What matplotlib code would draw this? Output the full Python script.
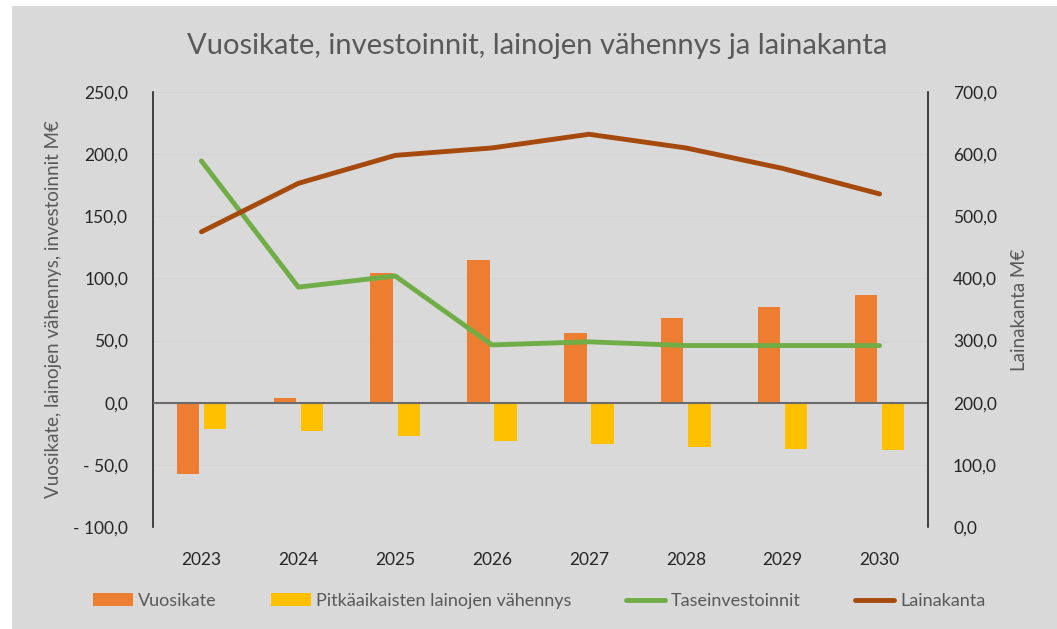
import numpy as np
import matplotlib
matplotlib.use("Agg")
from matplotlib import pyplot as plt
from matplotlib.patches import Rectangle

plt.rcParams['font.family'] = ['Lato', 'DejaVu Sans']

# Data
years = ['2023', '2024', '2025', '2026', '2027', '2028', '2029', '2030']
vuosikate = [-57.5, 3.5, 104.0, 115.0, 56.0, 68.5, 77.0, 87.0]
lainojen_vahennys = [-21.0, -22.5, -26.5, -30.5, -33.0, -35.5, -37.0, -38.0]
taseinvestoinnit = [194.5, 93.0, 102.0, 46.5, 49.0, 46.0, 46.0, 46.0]
lainakanta = [475.0, 553.0, 598.0, 610.0, 632.0, 610.0, 577.0, 536.0]

bg = '#d9d9d9'
c_orange = '#ed7d31'
c_yellow = '#ffc000'
c_green = '#70ad47'
c_brown = '#a5490c'
txt = '#595959'

fig = plt.figure(figsize=(10.57, 6.29), dpi=100, facecolor='white')
# grey chart area (white strip left and top as in the original)
fig.patches.append(Rectangle((12 / 1057, 0), 1, 1 - 6 / 629, transform=fig.transFigure,
                             facecolor=bg, edgecolor='none', zorder=-10))

ax = fig.add_axes([153 / 1057, 1 - 527 / 629, (928 - 153) / 1057, (527 - 92) / 629])
ax.set_facecolor(bg)
x = np.arange(len(years))
w = 0.23
ax.bar(x - 0.14, vuosikate, w, color=c_orange, label='Vuosikate', zorder=3)
ax.bar(x + 0.14, lainojen_vahennys, w, color=c_yellow,
       label='Pitkäaikaisten lainojen vähennys', zorder=3)
ax.plot(x, taseinvestoinnit, color=c_green, lw=3.5, solid_capstyle='round',
        label='Taseinvestoinnit', zorder=5)

ax.set_xlim(-0.5, len(years) - 0.5)
ax.set_ylim(-100, 250)
ax.set_yticks(np.arange(-100, 251, 50))
ax.set_yticklabels([f'{v:.1f}'.replace('.', ',').replace('-', '- ') for v in np.arange(-100, 251, 50)])
ax.yaxis.grid(True, color='#d4d4d4', lw=0.8, zorder=0)
ax.axhline(0, color='#6b6b6b', lw=1.5, zorder=4)
ax.set_xticks(x)
ax.set_xticklabels(years)
ax.tick_params(axis='x', length=0, pad=18, labelsize=12.5, labelcolor='#262626')
ax.tick_params(axis='y', length=0, pad=18, labelsize=12.5, labelcolor='#262626')
for s in ['top', 'bottom', 'right']:
    ax.spines[s].set_visible(False)
ax.spines['left'].set_color('#262626')
ax.spines['left'].set_linewidth(1.2)
ax.set_ylabel('Vuosikate, lainojen vähennys, investoinnit M€', fontsize=13.5, color=txt, labelpad=8)

ax2 = ax.twinx()
ax2.plot(x, lainakanta, color=c_brown, lw=3.5, solid_capstyle='round',
         label='Lainakanta', zorder=5)
ax2.set_ylim(0, 700)
ax2.set_yticks(np.arange(0, 701, 100))
ax2.set_yticklabels([f'{v:.1f}'.replace('.', ',') for v in np.arange(0, 701, 100)])
ax2.tick_params(axis='y', length=0, pad=18, labelsize=12.5, labelcolor='#262626')
for s in ['top', 'bottom', 'left']:
    ax2.spines[s].set_visible(False)
ax2.spines['right'].set_color('#262626')
ax2.spines['right'].set_linewidth(1.2)
ax2.set_ylabel('Lainakanta M€', fontsize=13.5, color=txt, labelpad=10)

fig.text(0.508, 1 - 46 / 629, 'Vuosikate, investoinnit, lainojen vähennys ja lainakanta',
         ha='center', va='center', fontsize=21, color=txt)

h1, l1 = ax.get_legend_handles_labels()
h2, l2 = ax2.get_legend_handles_labels()
handles = [h1[1], h1[2], h1[0], h2[0]]
labels = [l1[1], l1[2], l1[0], l2[0]]
fig.legend(handles, labels, loc='center', bbox_to_anchor=(0.51, 1 - 601 / 629), ncol=4,
           frameon=False, fontsize=13, labelcolor=txt, handlelength=2.2, handletextpad=0.3,
           columnspacing=3.0, handleheight=0.7)

fig.savefig('out.png', dpi=100, facecolor='white')
